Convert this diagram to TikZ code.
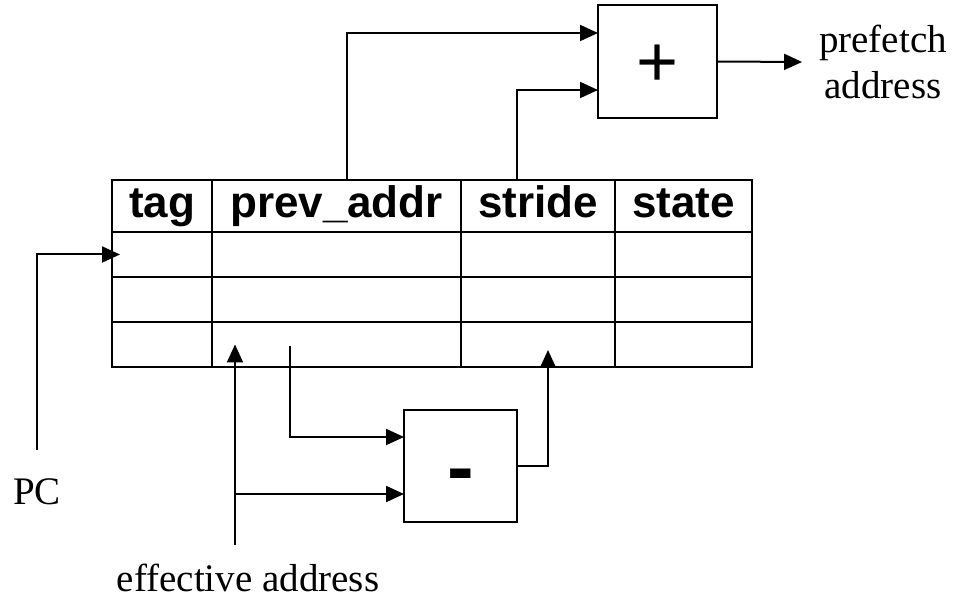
\documentclass[tikz,border=0pt]{standalone}
\usepackage{fontspec}
\setmainfont{Liberation Serif}
\setsansfont{Liberation Sans}
\usetikzlibrary{positioning,arrows.meta}

\tikzset{
  cell/.style={rectangle,draw,line width=1pt,inner sep=0pt,outer sep=0pt,minimum height=22.5pt,
    text height=16pt,text depth=4.5pt,font=\sffamily\bfseries\fontsize{22}{26}\selectfont},
  unit/.style={rectangle,draw,line width=1pt,inner sep=0pt,outer sep=0pt},
  lbl/.style={font=\fontsize{19.5}{23}\selectfont,align=center},
  conn/.style={line width=1pt,-{Triangle[length=9pt,width=8pt]}}
}

\begin{document}
\begin{tikzpicture}[x=0.5pt,y=-0.5pt]
  \useasboundingbox (0,0) rectangle (955,598);
  % header row
  \node[cell,minimum width=50pt,minimum height=26pt,anchor=north west] (tag) at (112,180) {tag};
  \node[cell,minimum width=124.5pt,minimum height=26pt,right=0pt of tag] (prevaddr) {prev\_addr};
  \node[cell,minimum width=77pt,minimum height=26pt,right=0pt of prevaddr] (stride) {stride};
  \node[cell,minimum width=68.5pt,minimum height=26pt,right=0pt of stride] (state) {state};
  % table rows
  \node[cell,minimum width=50pt,below=0pt of tag] (tag1) {};
  \node[cell,minimum width=124.5pt,below=0pt of prevaddr] (prev1) {};
  \node[cell,minimum width=77pt,below=0pt of stride] (stride1) {};
  \node[cell,minimum width=68.5pt,below=0pt of state] (state1) {};
  \node[cell,minimum width=50pt,below=0pt of tag1] (tag2) {};
  \node[cell,minimum width=124.5pt,below=0pt of prev1] (prev2) {};
  \node[cell,minimum width=77pt,below=0pt of stride1] (stride2) {};
  \node[cell,minimum width=68.5pt,below=0pt of state1] (state2) {};
  \node[cell,minimum width=50pt,below=0pt of tag2] (tag3) {};
  \node[cell,minimum width=124.5pt,below=0pt of prev2] (prev3) {};
  \node[cell,minimum width=77pt,below=0pt of stride2] (stride3) {};
  \node[cell,minimum width=68.5pt,below=0pt of state2] (state3) {};

  % adder and subtractor
  \node[unit,minimum width=59.5pt,minimum height=56.5pt,text height=25pt,text depth=0pt,
    font=\sffamily\fontsize{36}{40}\selectfont] (plus) at (657.5,61.5) {+};
  \node[unit,minimum width=56.5pt,minimum height=56pt,text height=29pt,text depth=0pt,
    font=\sffamily\bfseries\fontsize{40}{44}\selectfont] (minus) at (460.5,466) {-};

  % labels
  \node[lbl] (pc) at (37,492) {PC};
  \node[lbl] (ea) at (248,578) {effective address};
  \node[lbl] (pf) at (883,62) {prefetch\\address};

  \coordinate (plushi) at ([yshift=14.25pt]plus.west);
  \coordinate (pluslo) at ([yshift=-14.25pt]plus.west);
  \coordinate (minhi) at ([yshift=14.5pt]minus.west);
  \coordinate (minlo) at ([yshift=-14pt]minus.west);
  \coordinate (prevup) at (347,180);
  \coordinate (strup) at (517,180);
  \coordinate (prevout) at (290,346);
  \coordinate (eain) at (235,545);
  \coordinate (strin) at (548,350);

  \draw[conn,shorten <=11pt] (pc.north) |- ([xshift=4pt]tag1.west);
  \draw[conn] (eain) -- (eain |- prev3.center);
  \draw[conn] (eain |- minlo) -- (minlo);
  \draw[conn] (prevout) |- (minhi);
  \draw[conn] (minus.east) -| (strin);
  \draw[conn] (prevup) |- (plushi);
  \draw[conn] (strup) |- (pluslo);
  \draw[conn] (plus.east) -- ([xshift=-5pt]pf.west);
\end{tikzpicture}
\end{document}
